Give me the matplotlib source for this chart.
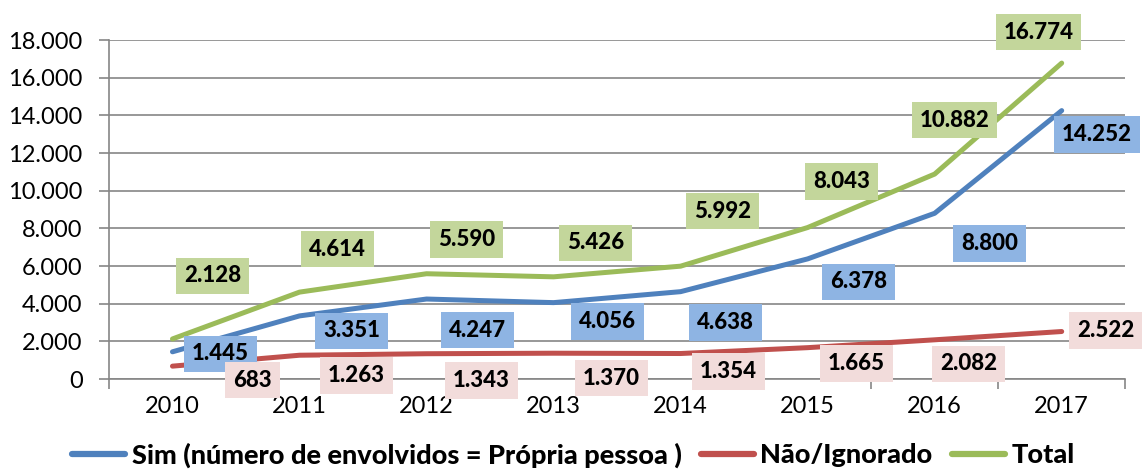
import matplotlib.pyplot as plt
from matplotlib.ticker import FuncFormatter, FixedLocator

plt.rcParams['font.family'] = ['Lato', 'DejaVu Sans']

years = ["2010", "2011", "2012", "2013", "2014", "2015", "2016", "2017"]
sim = [1445, 3351, 4247, 4056, 4638, 6378, 8800, 14252]
nao = [683, 1263, 1343, 1370, 1354, 1665, 2082, 2522]
total = [2128, 4614, 5590, 5426, 5992, 8043, 10882, 16774]

series_names = ["Sim (número de envolvidos = Própria pessoa )", "Não/Ignorado", "Total"]

# label offsets in pixels from each point (as placed in the original chart)
sim_offsets = [(48, -2), (52, -15), (51, -31), (54, -19), (45, -31), (51, -23), (55, -30), (35, -24)]
nao_offsets = [(80, -14), (57, -20), (55, -27), (58, -25), (48, -18), (49, -16), (34, -24), (44, 1)]
total_offsets = [(40, 63), (38, 43), (40, 34), (42, 34), (42, 55), (34, 46), (20, 54), (-23, 31)]


def fmt_thousands(v):
    return f"{int(round(v)):,}".replace(",", ".")


fig = plt.figure(figsize=(11.47, 4.73), dpi=100)
ax = fig.add_axes([0.095, 0.1987, 0.886, 0.7167])

x = list(range(len(years)))
styles = [
    (sim, "#4F81BD", "#8EB4E3", sim_offsets),
    (nao, "#C0504D", "#F2DCDB", nao_offsets),
    (total, "#9BBB59", "#C3D69B", total_offsets),
]

for (vals, line_c, box_c, offs), name in zip(styles, series_names):
    ax.plot(x, vals, color=line_c, lw=3.6, solid_capstyle="round", label=name, zorder=3)
    for xi, v, off in zip(x, vals, offs):
        ax.annotate(fmt_thousands(v), (xi, v), xytext=off, textcoords="offset pixels",
                    ha="center", va="center", fontsize=16, fontweight="black",
                    bbox=dict(boxstyle="square,pad=0.35", fc=box_c, ec="none"),
                    zorder=5, annotation_clip=False)

ax.set_xlim(-0.5, 7.5)
ax.set_ylim(0, 18000)
ax.set_yticks(range(0, 18001, 2000))
ax.yaxis.set_major_formatter(FuncFormatter(lambda v, p: fmt_thousands(v)))
ax.set_xticks(x)
ax.set_xticklabels(years)
ax.xaxis.set_minor_locator(FixedLocator([i - 0.5 for i in range(len(years) + 1)]))
ax.tick_params(axis="x", which="major", length=0, pad=12, labelsize=17)
ax.tick_params(axis="x", which="minor", length=7, width=1.2, color="#868686")
ax.tick_params(axis="y", length=7, width=1.2, color="#868686", labelsize=17, pad=12)

ax.grid(axis="y", color="#868686", lw=1.2)
ax.set_axisbelow(True)
for s in ["top", "right"]:
    ax.spines[s].set_visible(False)
for s in ["left", "bottom"]:
    ax.spines[s].set_color("#868686")
    ax.spines[s].set_linewidth(1.2)

leg = fig.legend(loc="lower center", bbox_to_anchor=(0.5, -0.04), ncol=3, frameon=False,
                 prop={"size": 19.5, "weight": "black"}, handlelength=1.95, handletextpad=0.25,
                 columnspacing=0.7)
for h in leg.get_lines():
    h.set_linewidth(4.5)

fig.savefig("out.png", dpi=100)
